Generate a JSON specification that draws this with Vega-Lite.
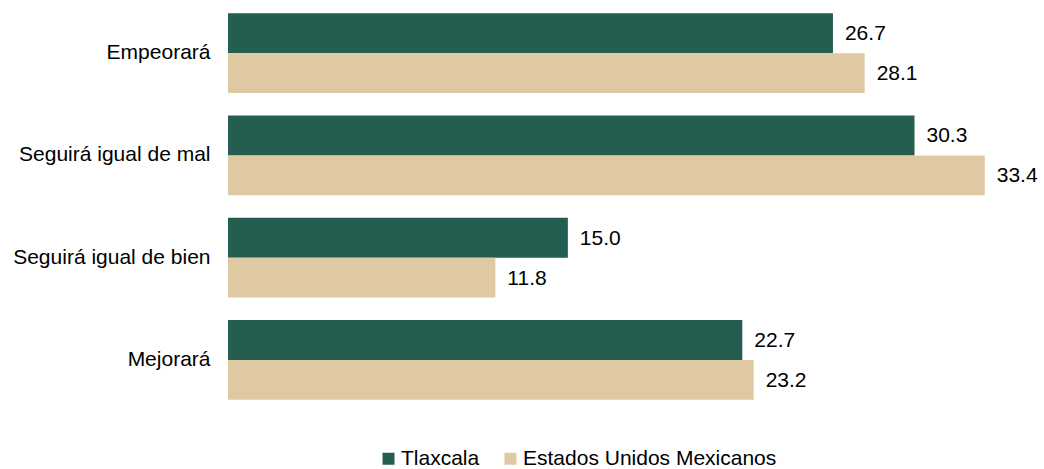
{
  "$schema": "https://vega.github.io/schema/vega-lite/v6.json",
  "autosize": {"type": "none"},
  "width": 793,
  "height": 409,
  "padding": {"left": 228, "top": 2, "right": 23, "bottom": 58},
  "background": "white",
  "config": {
    "view": {"stroke": null},
    "font": "Liberation Sans",
    "text": {"font": "Liberation Sans"}
  },
  "data": {
    "values": [
      {"categoria": "Empeorará", "serie": "Tlaxcala", "valor": 26.7},
      {"categoria": "Empeorará", "serie": "Estados Unidos Mexicanos", "valor": 28.1},
      {"categoria": "Seguirá igual de mal", "serie": "Tlaxcala", "valor": 30.3},
      {"categoria": "Seguirá igual de mal", "serie": "Estados Unidos Mexicanos", "valor": 33.4},
      {"categoria": "Seguirá igual de bien", "serie": "Tlaxcala", "valor": 15.0},
      {"categoria": "Seguirá igual de bien", "serie": "Estados Unidos Mexicanos", "valor": 11.8},
      {"categoria": "Mejorará", "serie": "Tlaxcala", "valor": 22.7},
      {"categoria": "Mejorará", "serie": "Estados Unidos Mexicanos", "valor": 23.2}
    ]
  },
  "encoding": {
    "y": {
      "field": "categoria",
      "type": "nominal",
      "sort": ["Empeorará", "Seguirá igual de mal", "Seguirá igual de bien", "Mejorará"],
      "scale": {"paddingInner": 0.218, "paddingOuter": 0.109},
      "axis": {
        "title": null,
        "domain": false,
        "ticks": false,
        "labelFontSize": 21,
        "labelColor": "#000000",
        "labelPadding": 18,
        "labelFont": "Liberation Sans",
        "labelLimit": 300
      }
    },
    "yOffset": {
      "field": "serie",
      "type": "nominal",
      "sort": ["Tlaxcala", "Estados Unidos Mexicanos"],
      "scale": {"paddingInner": 0, "paddingOuter": 0}
    },
    "x": {
      "field": "valor",
      "type": "quantitative",
      "scale": {"domain": [0, 35], "nice": false},
      "axis": null
    }
  },
  "layer": [
    {
      "mark": {"type": "bar"},
      "encoding": {
        "color": {
          "field": "serie",
          "type": "nominal",
          "scale": {
            "domain": ["Tlaxcala", "Estados Unidos Mexicanos"],
            "range": ["#245E50", "#DFC9A3"]
          },
          "legend": {
            "title": null,
            "orient": "none",
            "direction": "horizontal",
            "legendX": 150,
            "legendY": 446,
            "symbolType": "square",
            "symbolSize": 144,
            "symbolStrokeWidth": 0,
            "labelFontSize": 21,
            "labelFont": "Liberation Sans",
            "labelColor": "#000000",
            "labelOffset": 2,
            "columnPadding": 20,
            "labelLimit": 400
          }
        }
      }
    },
    {
      "mark": {
        "type": "text",
        "align": "left",
        "baseline": "middle",
        "dx": 12,
        "dy": 1,
        "fontSize": 21,
        "font": "Liberation Sans",
        "color": "#000000"
      },
      "encoding": {
        "text": {"field": "valor", "type": "quantitative", "format": ".1f"}
      }
    }
  ]
}
